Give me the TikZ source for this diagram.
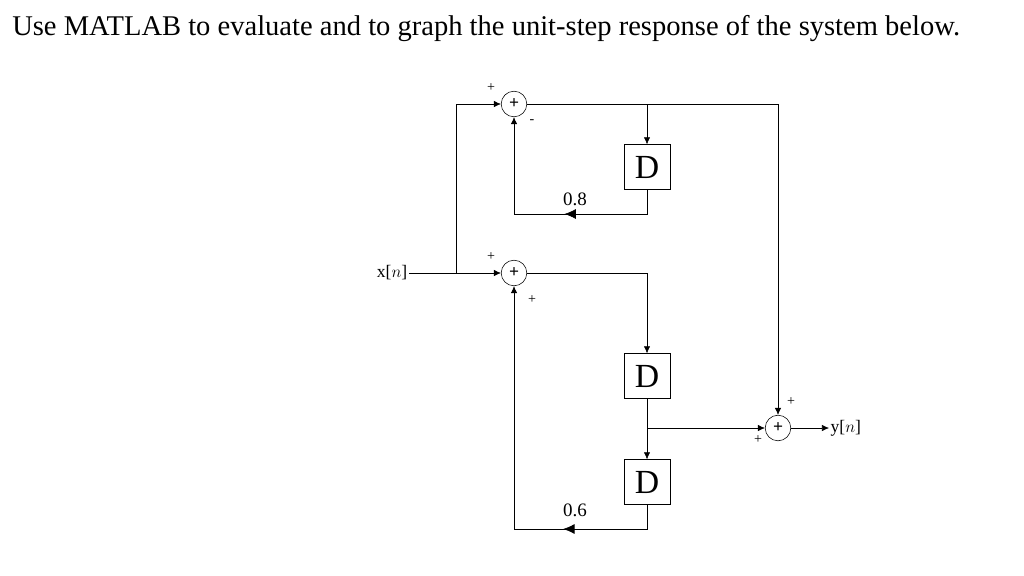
\documentclass[tikz,border=0pt]{standalone}
\usepackage{fontspec}
\setmainfont{Liberation Serif}
\usetikzlibrary{arrows.meta, positioning, decorations.markings}

\begin{document}
\begin{tikzpicture}[
        x=0.025cm, y=-0.025cm,
        sum/.style={circle, draw, minimum size=0.64cm, inner sep=0pt,
                    font=\bfseries\fontsize{12.5}{12.5}\selectfont},
        delay/.style={rectangle, draw, minimum width=1.15cm, minimum height=1.12cm,
                      inner sep=0pt, font=\fontsize{24}{24}\selectfont},
        arr/.style={-{Latex[length=5pt, width=4.5pt]}},
        gain/.style={postaction={decorate}, decoration={markings,
                     mark=at position #1 with {\arrow{Latex[length=8pt, width=7pt]}}}},
        sgn/.style={font=\fontsize{10}{10}\selectfont, inner sep=0pt},
        lbl/.style={font=\fontsize{12.5}{12.5}\selectfont, inner sep=1pt},
    ]
        \useasboundingbox (0,0) rectangle (1024,575);

        % Title
        \node[anchor=base west, inner sep=0pt, font=\fontsize{20.3}{20.3}\selectfont] (title)
            at (12,35) {Use MATLAB to evaluate and to graph the unit-step response of the system below.};

        % Adders
        \node[sum] (s1) at (514,104) {+};
        \node[sum] (s2) at (514,273) {+};
        \node[sum] (s3) at (778,428) {+};

        % Delays
        \node[delay] (d1) at (647,167) {D};
        \node[delay] (d2) at (647,376) {D};
        \node[delay] (d3) at (647,482) {D};

        % Input and output
        \node[lbl, anchor=east] (x) at (409,273) {x[$n$]};
        \node[lbl, anchor=west] (y) at (829,428) {y[$n$]};

        % Branch point and corners
        \coordinate (b1) at (456,273);
        \coordinate (f1) at (514,214);
        \coordinate (f2) at (514,529);

        % Forward paths
        \draw[arr] (x.east) -- (s2.west);
        \draw[arr] (b1) |- (s1.west);
        \draw[arr] (s1.east) -| (s3.north);
        \draw[arr] (d1.north |- s1.east) -- (d1.north);
        \draw[arr] (s2.east) -| (d2.north);
        \draw[arr] (d2.south) -- (d3.north);
        \draw[arr] (d2.south |- s3.west) -- (s3.west);
        \draw[arr] (s3.east) -- (y.west);

        % Feedback paths
        \draw[arr, gain=0.42] (d1.south) |- (f1) -- (s1.south);
        \draw[arr, gain=0.27] (d3.south) |- (f2) -- (s2.south);

        % Gains
        \node[lbl, font=\fontsize{13.5}{13.5}\selectfont] (g1) at (575,199) {0.8};
        \node[lbl, font=\fontsize{13.5}{13.5}\selectfont] (g2) at (575,510) {0.6};

        % Signs
        \node[sgn] (p1) at (491,88) {+};
        \node[sgn] (m1) at (532,122) {-};
        \node[sgn] (p2) at (491,257) {+};
        \node[sgn] (p3) at (532,300) {+};
        \node[sgn] (p4) at (791,402) {+};
        \node[sgn] (p5) at (758,440) {+};
    \end{tikzpicture}
\end{document}
